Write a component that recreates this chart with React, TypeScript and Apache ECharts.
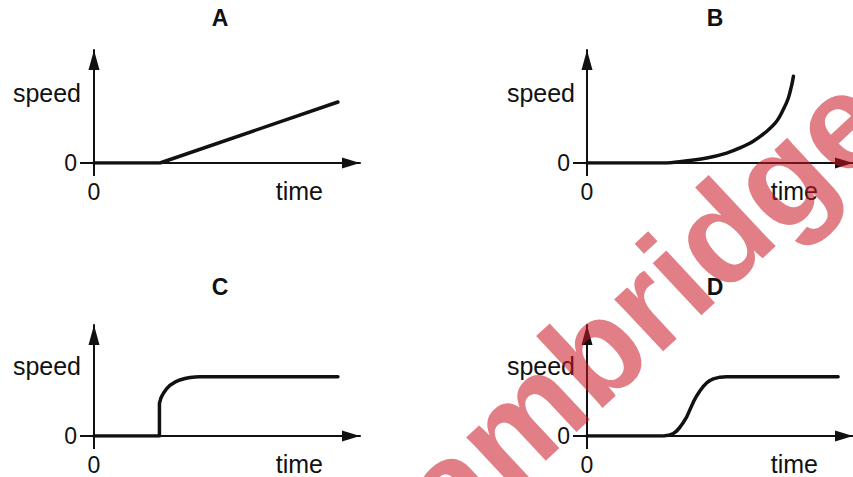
import React, { useEffect, useRef } from "react";
import * as echarts from "echarts";

// Panel titles
const panelTitles = ["A", "B", "C", "D"];
const yAxisName = "speed";
const xAxisName = "time";
const zeroTick = [0];
const axisMax = 10;

// Line data per panel: [time, speed] in axis units (0..10)
const seriesA: number[][] = [
  [0, 0],
  [2.48, 0],
  [9.17, 5.4],
];
const seriesB: number[][] = [
  [0, 0],
  [2.9, 0],
  [3.62, 0.15],
  [4.5, 0.44],
  [5.25, 0.88],
  [5.75, 1.33],
  [6.25, 1.92],
  [6.76, 2.81],
  [7.13, 3.69],
  [7.38, 4.73],
  [7.57, 5.75],
  [7.7, 6.94],
  [7.76, 7.67],
];
const seriesC: number[][] = [
  [0, 0],
  [2.46, 0],
  [2.46, 2.95],
  [2.52, 3.45],
  [2.61, 3.85],
  [2.73, 4.25],
  [2.86, 4.58],
  [3.04, 4.85],
  [3.23, 5.05],
  [3.42, 5.18],
  [3.61, 5.27],
  [3.8, 5.31],
  [3.98, 5.33],
  [9.17, 5.33],
];
const seriesD: number[][] = [
  [0, 0],
  [2.87, 0],
  [3.07, 0.06],
  [3.24, 0.22],
  [3.37, 0.45],
  [3.5, 0.81],
  [3.62, 1.22],
  [3.75, 1.72],
  [3.87, 2.38],
  [4.0, 3.07],
  [4.12, 3.6],
  [4.25, 4.07],
  [4.37, 4.46],
  [4.5, 4.79],
  [4.62, 5.0],
  [4.75, 5.15],
  [5.0, 5.3],
  [5.25, 5.33],
  [9.44, 5.33],
];
const panelData = [seriesA, seriesB, seriesC, seriesD];
const watermarkText = "Cambridge";

const FONT = "'Liberation Sans', Arial, Helvetica, sans-serif";
const INK = "#111111";

const grids = [
  { left: 94, top: 50, width: 266, height: 113 },
  { left: 587, top: 50, width: 266, height: 113 },
  { left: 94, top: 325, width: 266, height: 111 },
  { left: 587, top: 325, width: 266, height: 111 },
];

export default function App() {
  const ref = useRef<HTMLDivElement>(null);

  useEffect(() => {
    if (!ref.current) return;
    const chart = echarts.init(ref.current, null, { renderer: "svg" });

    const xAxes = grids.map((_, i) => ({
      gridIndex: i,
      type: "value",
      min: 0,
      max: axisMax,
      axisLine: {
        show: true,
        onZero: false,
        symbol: ["none", "triangle"],
        symbolSize: [11, 18],
        symbolOffset: [0, -9],
        lineStyle: { color: INK, width: 2 },
      },
      axisTick: {
        show: true,
        customValues: zeroTick,
        length: 13,
        inside: false,
        lineStyle: { color: INK, width: 2 },
      },
      axisLabel: {
        show: true,
        customValues: zeroTick,
        margin: 17,
        fontSize: 23,
        color: INK,
        fontFamily: FONT,
      },
      splitLine: { show: false },
    }));

    const yAxes = grids.map((_, i) => ({
      gridIndex: i,
      type: "value",
      min: 0,
      max: axisMax,
      axisLine: {
        show: true,
        onZero: false,
        symbol: ["none", "triangle"],
        symbolSize: [11, 20],
        symbolOffset: [0, -10],
        lineStyle: { color: INK, width: 2 },
      },
      axisTick: {
        show: true,
        customValues: zeroTick,
        length: 14,
        lineStyle: { color: INK, width: 2 },
      },
      axisLabel: {
        show: true,
        customValues: zeroTick,
        margin: 17,
        fontSize: 23,
        color: INK,
        fontFamily: FONT,
      },
      splitLine: { show: false },
    }));

    const series = panelData.map((d, i) => ({
      type: "line",
      xAxisIndex: i,
      yAxisIndex: i,
      data: d,
      showSymbol: false,
      symbol: "none",
      smooth: i === 1 ? 0.35 : false,
      lineStyle: { color: INK, width: 3.5, cap: "round", join: "round" },
      z: 3,
    }));

    const titleCenters = [
      [220, 18],
      [715, 18],
      [220, 287],
      [715, 287],
    ];
    const speedPos = [
      [81, 93],
      [575, 93],
      [81, 366],
      [575, 366],
    ];
    const timePos = [
      [323, 191],
      [818, 191],
      [323, 464],
      [818, 464],
    ];

    const graphics: any[] = [];
    panelTitles.forEach((t, i) => {
      graphics.push({
        type: "text",
        x: titleCenters[i][0],
        y: titleCenters[i][1],
        style: {
          text: t,
          fill: INK,
          font: `bold 23px ${FONT}`,
          align: "center",
          verticalAlign: "middle",
        },
      });
      graphics.push({
        type: "text",
        x: speedPos[i][0],
        y: speedPos[i][1],
        style: {
          text: yAxisName,
          fill: INK,
          font: `25px ${FONT}`,
          align: "right",
          verticalAlign: "middle",
        },
      });
      graphics.push({
        type: "text",
        x: timePos[i][0],
        y: timePos[i][1],
        style: {
          text: xAxisName,
          fill: INK,
          font: `25px ${FONT}`,
          align: "right",
          verticalAlign: "middle",
        },
      });
    });

    graphics.push({
      type: "text",
      x: 608,
      y: 339,
      rotation: (43 * Math.PI) / 180,
      z: 100,
      style: {
        text: watermarkText,
        fill: "rgba(200,20,35,0.55)",
        font: `bold 135px ${FONT}`,
        align: "center",
        verticalAlign: "middle",
      },
    });

    chart.setOption({
      animation: false,
      backgroundColor: "#ffffff",
      grid: grids,
      xAxis: xAxes,
      yAxis: yAxes,
      series,
      graphic: { elements: graphics },
    });

    return () => chart.dispose();
  }, []);

  return (
    <div
      ref={ref}
      style={{ position: "fixed", left: 0, top: 0, width: 853, height: 477 }}
    />
  );
}
